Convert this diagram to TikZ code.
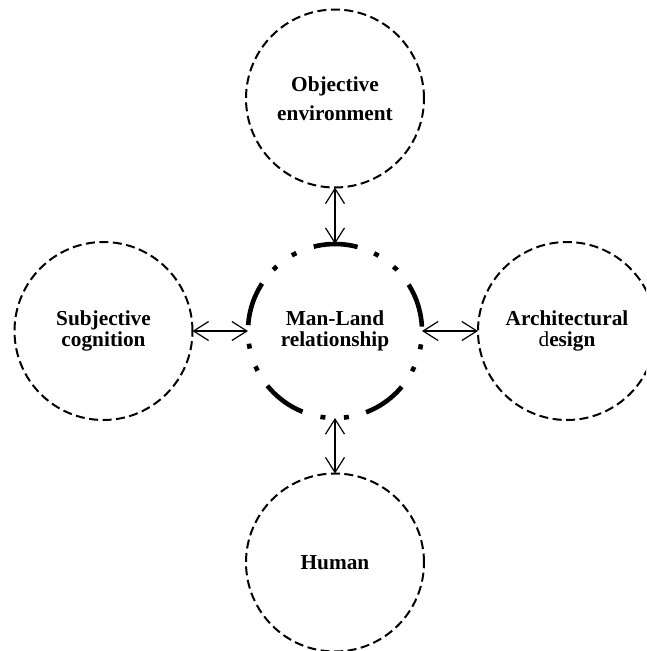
\documentclass[tikz,border=0pt]{standalone}
\usepackage{fontspec}
\setmainfont{Liberation Serif}
\usetikzlibrary{arrows.meta}
\begin{document}
\begin{tikzpicture}[x=1pt,y=-1pt,
  outerc/.style={circle,draw,dashed,line width=2pt,dash pattern=on 9pt off 4.5pt,
    minimum size=178pt,inner sep=0pt,outer sep=0pt,align=center,
    font=\fontsize{21.3}{21}\selectfont\bfseries},
  midc/.style={circle,minimum size=174pt,inner sep=0pt,outer sep=0pt,align=center,
    font=\fontsize{21.3}{21}\selectfont\bfseries},
  mlring/.style={line width=4.6pt,line cap=butt,
    dash pattern=on 44.3pt off 18.6pt on 5pt off 18.6pt on 5pt off 17.8pt},
  link/.style={line width=1.2pt,{Straight Barb[length=15pt,width=19pt]}-{Straight Barb[length=15pt,width=19pt]}}
]
\useasboundingbox (0,0) rectangle (646,651);
\clip (0,0) rectangle (646,651);
\node[midc] (mid) at (335,331) {Man-Land\\relationship};
\draw[mlring] ([shift={(3:87pt)}]mid.center) arc[start angle=3,delta angle=360,radius=87pt];
\node[outerc,font=\fontsize{21.3}{28.5}\selectfont\bfseries] (obj) at (335,98.5) {Objective\\environment};
\node[outerc] (subj) at (103.5,331) {Subjective\\cognition};
\node[outerc] (arch) at (567,331) {Architectural\\{\mdseries d}esign};
\node[outerc] (hum) at (335,562.5) {Human};
\draw[link] (obj) -- (mid);
\draw[link] (subj) -- (mid);
\draw[link] (mid) -- (arch);
\draw[link] (mid) -- (hum);
\end{tikzpicture}
\end{document}
